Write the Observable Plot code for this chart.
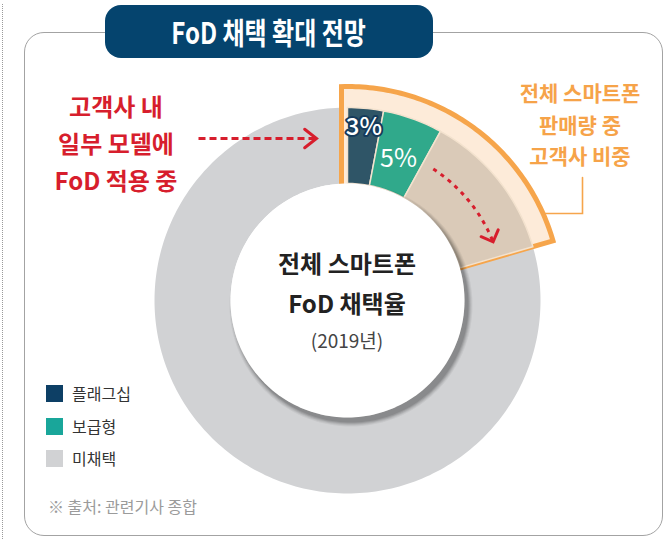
<!DOCTYPE html>
<html>
<head>
<meta charset="utf-8">
<script src="https://cdn.jsdelivr.net/npm/d3@7"></script>
<script src="https://cdn.jsdelivr.net/npm/@observablehq/plot@0.6"></script>
<style>
  html, body { margin: 0; padding: 0; background: #fff; }
  body { font-family: "Noto Sans CJK KR", "Noto Sans", sans-serif; }
  #wrap { position: relative; width: 668px; height: 539px; overflow: hidden; background: #fff; }
  #dots { position: absolute; left: 2px; top: 4px; bottom: 0; border-left: 1.5px dotted #9a9a9a; }
  #frame { position: absolute; left: 24px; top: 32px; width: 639px; height: 504px; box-sizing: border-box;
           border: 1.8px solid #a3a3a3; border-radius: 20px; }
  #chart { position: absolute; left: 0; top: 0; }
  #titlebox { position: absolute; left: 105px; top: 5px; width: 328px; height: 53px; background: #05446e;
              border-radius: 16px; display: flex; align-items: center; justify-content: center; }
  #titlebox span { display: inline-block; color: #fff; font-weight: 700; font-size: 30px; transform: scaleX(0.8);
                   white-space: nowrap; margin-top: -2px; }
  .note { position: absolute; transform: translate(-50%, -50%); text-align: center; white-space: nowrap; font-weight: 700; }
  #red { left: 116px; top: 142px; color: #d71e2d; font-size: 24px; line-height: 37px; }
  #orange { left: 580px; top: 124px; color: #f6a349; font-size: 21px; line-height: 31.5px; }
  #center1 { left: 347px; top: 283px; color: #222; font-size: 24px; line-height: 40px; }
  #center2 { left: 347px; top: 339px; color: #444; font-size: 19px; font-weight: 400; }
  .leg { position: absolute; left: 46px; display: flex; align-items: center; font-size: 16px; color: #333; height: 20px; }
  .leg i { display: inline-block; width: 17px; height: 17px; margin-right: 9px; }
  #source { position: absolute; left: 48px; top: 494px; font-size: 16px; color: #9b9b9b; white-space: nowrap; }
</style>
</head>
<body>
<div id="wrap">
  <div id="dots"></div>
  <div id="frame"></div>
  <div id="chart"></div>
  <div id="titlebox"><span id="title"></span></div>
  <div id="red" class="note"></div>
  <div id="orange" class="note"></div>
  <div id="center1" class="note"></div>
  <div id="center2" class="note"></div>
  <div id="legend"></div>
  <div id="source"></div>
</div>
<script>
// ---------------- data ----------------
const categories = ["플래그십", "보급형", "미채택"];
const shares = [3, 5, 92];                 // % of all smartphones adopting FoD (2019)
const shareLabels = ["3%", "5%", ""];
const customerShareEnd = [20.5];           // cumulative %: 고객사 비중 of total smartphone sales
const customerKey = ["고객사"];
const titleText = "FoD 채택 확대 전망";
const redNote = ["고객사 내", "일부 모델에", "FoD 적용 중"];
const orangeNote = ["전체 스마트폰", "판매량 중", "고객사 비중"];
const centerTitle = ["전체 스마트폰", "FoD 채택율"];
const centerSub = ["(2019년)"];
const legendLabels = ["플래그십", "보급형", "미채택"];
const sourceText = ["※ 출처: 관련기사 종합"];

// ---------------- styling ----------------
const sliceColors = ["#2f5567", "#30a98b", "#d1d2d4", "#dacab8"];
const legendColors = ["#0d3f65", "#19a69a", "#d1d2d4"];
const W = 668, H = 539;
const CX = 347, CY = 300, UNIT = 193;      // donut centre (px) and outer radius (px)
const R_OUT = 1, R_IN = 117 / 193, R_HI = 214 / 193;
const RED = "#d71e2d", ORANGE = "#f6a54b";

// ---------------- geometry helpers ----------------
const pol = (p, r) => ({x: r * Math.sin(p / 100 * 2 * Math.PI), y: r * Math.cos(p / 100 * 2 * Math.PI)});
const px = (x, y) => ({x: (x - CX) / UNIT, y: (CY - y) / UNIT});
function sector(p0, p1, r0, r1, key) {
  const n = Math.max(4, Math.ceil((p1 - p0) * 3));
  const pts = [];
  for (let i = 0; i <= n; i++) pts.push({...pol(p0 + (p1 - p0) * i / n, r1), key});
  for (let i = n; i >= 0; i--) pts.push({...pol(p0 + (p1 - p0) * i / n, r0), key});
  return pts;
}
const ends = d3.cumsum(shares);
const starts = ends.map((e, i) => e - shares[i]);

const grayPts = sector(starts[2], ends[2], R_IN, R_OUT, categories[2]);
const frontPts = [
  ...sector(starts[0], ends[0], R_IN, R_OUT, categories[0]),
  ...sector(starts[1], ends[1], R_IN, R_OUT, categories[1]),
  ...sector(ends[1], customerShareEnd[0], R_IN, R_OUT, customerKey[0])
];
const pad = 6 / UNIT;
const a0 = -Math.asin(pad / R_HI) / (2 * Math.PI) * 100;
const hiPts = [{x: -pad, y: 0.45}];
{
  const p1 = customerShareEnd[0], n = 80;
  for (let i = 0; i <= n; i++) hiPts.push(pol(a0 + (p1 - a0) * i / n, R_HI));
  hiPts.push(pol(p1, 0.45));
}
// inner disc and a layered soft shadow (offset down-right)
const discPts = (r, dx, dy, k) => d3.range(0, 100, 0.5).map(p => {
  const q = pol(p, r); return {x: q.x + dx, y: q.y + dy, k};
});
const shadowLayers = [[4.5, 0.05], [3.5, 0.06], [2.5, 0.08], [1.5, 0.1], [0.5, 0.1]];
const shadowPts = [];
shadowLayers.forEach(([g], j) =>
  shadowPts.push(...discPts(R_IN + g / UNIT, 3.5 / UNIT, -4.5 / UNIT, "s" + j)));
const innerPts = discPts(R_IN, 0, 0, "inner");

const labelR = [0.9, 0.78];
const labels = shareLabels.slice(0, 2).map((t, i) => ({t, i, ...pol((starts[i] + ends[i]) / 2, labelR[i])}));

function chevron(tip, dir, len, ang) {
  const a = ang * Math.PI / 180, back = {x: -dir.x, y: -dir.y};
  const rot = (v, t) => ({x: v.x * Math.cos(t) - v.y * Math.sin(t), y: v.x * Math.sin(t) + v.y * Math.cos(t)});
  const w1 = rot(back, a), w2 = rot(back, -a);
  return [{x: tip.x + w1.x * len, y: tip.y + w1.y * len}, tip, {x: tip.x + w2.x * len, y: tip.y + w2.y * len}];
}
const straightLine = [px(198, 138), px(314, 138)];
const straightHead = chevron(px(316, 138), {x: 1, y: 0}, 15 / UNIT, 38);

const arcR = 157 / UNIT, arcP0 = 9.2, arcP1 = 18.9;
const arcLine = d3.range(0, 41).map(i => pol(arcP0 + (arcP1 - arcP0) * i / 40, arcR));
const th = arcP1 / 100 * 2 * Math.PI;
const arcHead = chevron(pol(arcP1, arcR), {x: Math.cos(th), y: -Math.sin(th)}, 13 / UNIT, 45);

const ly = (CY - 213) / UNIT;
const leader = [px(582, 177), px(582, 213), {x: Math.sqrt(R_HI * R_HI - ly * ly), y: ly}];

const font = "Noto Sans CJK KR, Noto Sans, sans-serif";
const chart = Plot.plot({
  width: W, height: H, margin: 0,
  x: {axis: null, domain: [-CX / UNIT, (W - CX) / UNIT]},
  y: {axis: null, domain: [-(H - CY) / UNIT, CY / UNIT]},
  color: {domain: [...categories, ...customerKey], range: sliceColors},
  style: {background: "transparent", overflow: "visible", fontFamily: font},
  marks: [
    Plot.line(grayPts, {x: "x", y: "y", z: "key", fill: "key", stroke: "none", curve: "linear-closed"}),
    Plot.line(hiPts, {x: "x", y: "y", fill: "#fdebd9", stroke: ORANGE, strokeWidth: 5,
                      strokeLinejoin: "miter", strokeMiterlimit: 10, curve: "linear-closed"}),
    Plot.line(frontPts, {x: "x", y: "y", z: "key", fill: "key", stroke: "#f3e2ce", strokeWidth: 1.5,
                         strokeLinejoin: "miter", strokeMiterlimit: 10, curve: "linear-closed"}),
    ...shadowLayers.map(([, o], j) => Plot.line(shadowPts.filter(d => d.k === "s" + j),
        {x: "x", y: "y", fill: "#000", fillOpacity: o, stroke: "none", curve: "linear-closed"})),
    Plot.line(innerPts, {x: "x", y: "y", fill: "#ffffff", stroke: "none", curve: "linear-closed"}),
    Plot.text(labels.filter(d => d.i === 0), {x: "x", y: "y", text: "t", fill: "white", stroke: "#153b5c",
                strokeWidth: 4, paintOrder: "stroke", fontSize: 24, fontWeight: 500, fontFamily: font}),
    Plot.text(labels.filter(d => d.i === 1), {x: "x", y: "y", text: "t", fill: "white",
                fontSize: 25, fontWeight: 400, fontFamily: font}),
    Plot.line(straightLine, {x: "x", y: "y", stroke: RED, strokeWidth: 3, strokeDasharray: "7,4", strokeLinecap: "butt"}),
    Plot.line(straightHead, {x: "x", y: "y", stroke: RED, strokeWidth: 3, strokeLinejoin: "miter", strokeMiterlimit: 10}),
    Plot.line(arcLine, {x: "x", y: "y", stroke: RED, strokeWidth: 3, strokeDasharray: "4,5", strokeLinecap: "butt"}),
    Plot.line(arcHead, {x: "x", y: "y", stroke: RED, strokeWidth: 3, strokeLinejoin: "miter", strokeMiterlimit: 10}),
    Plot.line(leader, {x: "x", y: "y", stroke: ORANGE, strokeWidth: 1.6, strokeLinejoin: "miter", strokeMiterlimit: 10})
  ]
});
document.getElementById("chart").appendChild(chart);

// ---------------- texts ----------------
document.getElementById("title").textContent = titleText;
document.getElementById("red").innerHTML = redNote.join("<br>");
document.getElementById("orange").innerHTML = orangeNote.join("<br>");
document.getElementById("center1").innerHTML = centerTitle.join("<br>");
document.getElementById("center2").textContent = centerSub[0];
document.getElementById("source").textContent = sourceText[0];
const legY = [383, 416, 448];
const leg = document.getElementById("legend");
legendLabels.forEach((l, i) => {
  const d = document.createElement("div");
  d.className = "leg";
  d.style.top = legY[i] + "px";
  d.innerHTML = `<i style="background:${legendColors[i]}"></i><span>${l}</span>`;
  leg.appendChild(d);
});
</script>
</body>
</html>
